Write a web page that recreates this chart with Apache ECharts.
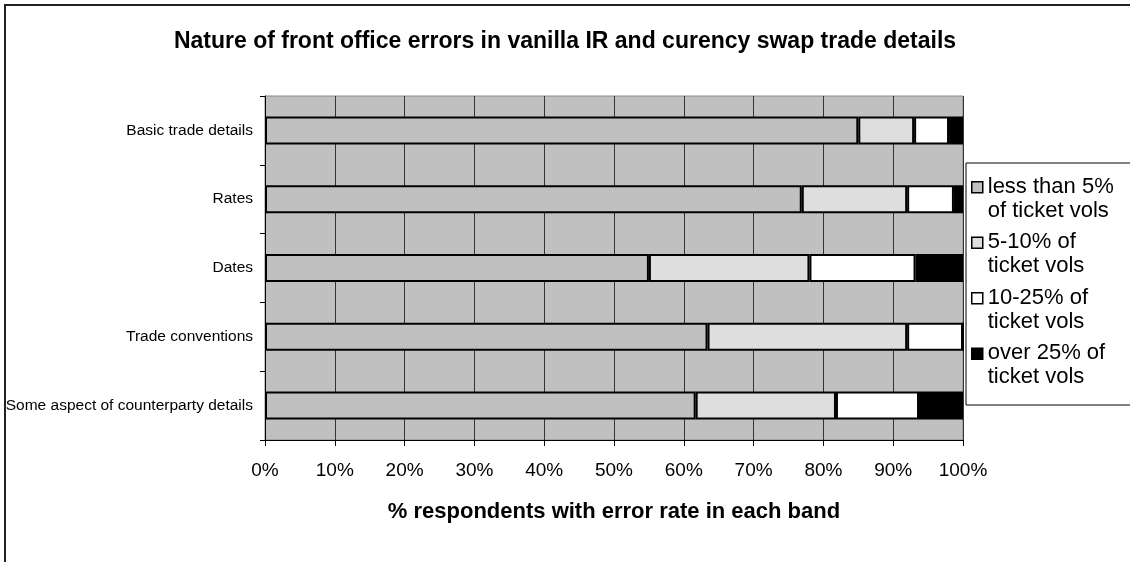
<!DOCTYPE html>
<html>
<head>
<meta charset="utf-8">
<script src="https://cdn.jsdelivr.net/npm/echarts@6/dist/echarts.min.js"></script>
<style>
  html, body { margin: 0; padding: 0; background: #ffffff; }
  #chart { width: 1130px; height: 562px; }
</style>
</head>
<body>
<div id="chart"></div>
<script>
// Error categories, top to bottom
const categories = [
  'Basic trade details',
  'Rates',
  'Dates',
  'Trade conventions',
  'Some aspect of counterparty details'
];

// % of respondents in each error-rate band
const lessThan5 = [85.0, 76.9, 55.0, 63.4, 61.7];
const from5to10 = [8.0, 15.1, 23.0, 28.6, 20.1];
const from10to25 = [5.0, 6.7, 15.2, 8.0, 11.9];
const over25 = [2.0, 1.3, 6.8, 0.0, 6.3];

const seriesNames = ['less than 5%', '5-10%', '10-25%', 'over 25%'];
const legendLabels = {
  'less than 5%': 'less than 5%\nof ticket vols',
  '5-10%': '5-10% of\nticket vols',
  '10-25%': '10-25% of\nticket vols',
  'over 25%': 'over 25% of\nticket vols'
};
const xTicks = [0, 10, 20, 30, 40, 50, 60, 70, 80, 90, 100];

const fillColors = ['#c0c0c0', '#dedede', '#ffffff', '#000000'];
const font = 'Arial, "Liberation Sans", sans-serif';

const bandValues = [lessThan5, from5to10, from10to25, over25];

const chart = echarts.init(document.getElementById('chart'), null, { renderer: 'canvas' });

chart.setOption({
  backgroundColor: '#ffffff',
  animation: false,
  title: {
    text: 'Nature of front office errors in vanilla IR and curency swap trade details',
    left: 'center',
    top: 25,
    textStyle: { fontFamily: font, fontSize: 23, fontWeight: 'bold', color: '#000' }
  },
  graphic: [{
    type: 'rect',
    shape: { x: 5, y: 5, width: 1300, height: 800 },
    style: { fill: 'none', stroke: '#222', lineWidth: 2 },
    silent: true,
    z: 100
  }],
  legend: {
    orient: 'vertical',
    left: 966,
    top: 163,
    padding: [11, 60, 15, 5],
    itemGap: 6,
    itemWidth: 11,
    itemHeight: 48,
    // square marker sits level with the first text line
    icon: 'path://M0 7h11v11h-11z M0 0 M11 48',
    backgroundColor: '#ffffff',
    borderColor: '#000',
    borderWidth: 1,
    borderRadius: 0,
    itemStyle: { borderColor: '#000', borderWidth: 1.5 },
    data: seriesNames,
    formatter: name => legendLabels[name],
    textStyle: { fontFamily: font, fontSize: 22, lineHeight: 24, color: '#000' }
  },
  grid: {
    left: 265,
    right: 167,
    top: 96,
    bottom: 122,
    show: true,
    backgroundColor: '#c0c0c0',
    borderColor: '#888',
    borderWidth: 1
  },
  xAxis: {
    type: 'value',
    min: xTicks[0],
    max: xTicks[xTicks.length - 1],
    interval: 10,
    name: '% respondents with error rate in each band',
    nameLocation: 'middle',
    nameGap: 61,
    nameTextStyle: { fontFamily: font, fontSize: 22, fontWeight: 'bold', color: '#000' },
    axisLine: { show: true, lineStyle: { color: '#000', width: 1 } },
    axisTick: { show: true, length: 6, lineStyle: { color: '#000' } },
    axisLabel: {
      formatter: '{value}%',
      fontFamily: font,
      fontSize: 19,
      color: '#000',
      margin: 21
    },
    splitLine: { show: true, lineStyle: { color: '#333', width: 1 } }
  },
  yAxis: {
    type: 'category',
    data: categories,
    inverse: true,
    axisLine: { show: true, lineStyle: { color: '#000', width: 1 } },
    axisTick: { show: true, length: 5, lineStyle: { color: '#000' } },
    axisLabel: { fontFamily: font, fontSize: 15.5, color: '#000', margin: 12 },
    splitLine: { show: false }
  },
  series: seriesNames.map((name, i) => ({
    name: name,
    type: 'bar',
    stack: 'bands',
    barWidth: 28,
    data: bandValues[i],
    itemStyle: { color: fillColors[i], borderColor: '#000', borderWidth: 2 },
    emphasis: { disabled: true }
  }))
});
</script>
</body>
</html>
